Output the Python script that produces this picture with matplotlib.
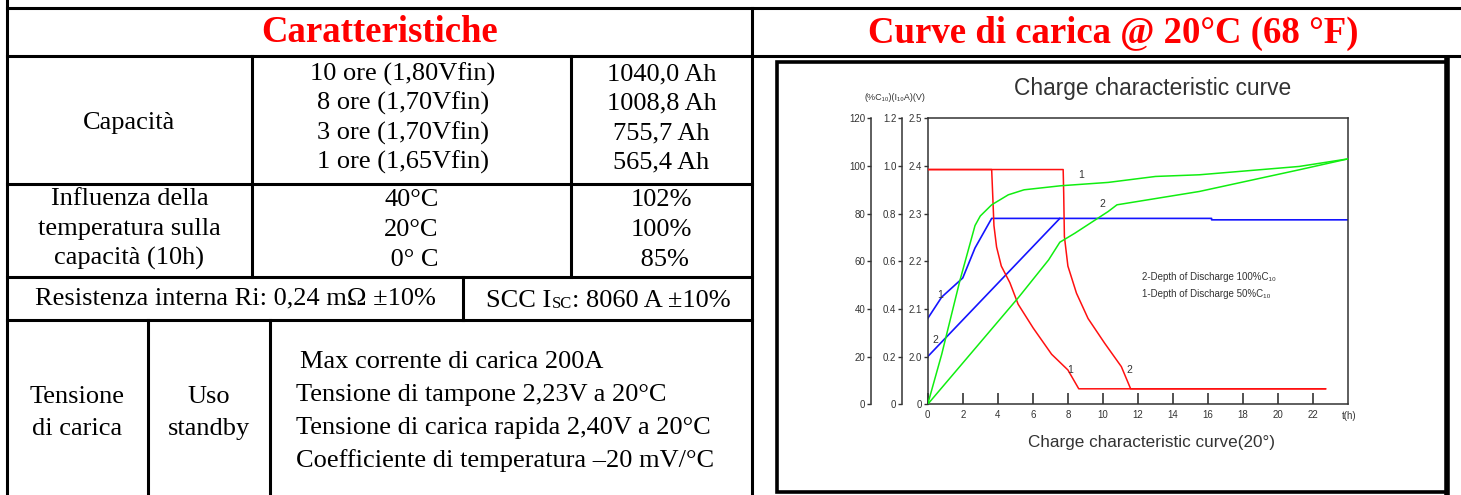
import numpy as np
import matplotlib.pyplot as plt
from matplotlib.patches import Rectangle

W, H = 1461, 495
SERIF = 'Liberation Serif'
SANS = ['Liberation Sans', 'DejaVu Sans']

# ---- table content ----
title_left = 'Caratteristiche'
title_right = 'Curve di carica @ 20°C (68 °F)'
capacity_rates = ['10 ore (1,80Vfin)', '8 ore (1,70Vfin)', '3 ore (1,70Vfin)', '1 ore (1,65Vfin)']
capacity_values = ['1040,0 Ah', '1008,8 Ah', '755,7 Ah', '565,4 Ah']
temp_label = ['Influenza della', 'temperatura sulla', 'capacità (10h)']
temperatures = ['40°C', '20°C', ' 0° C']
temp_capacity = ['102%', '100%', ' 85%']
resistance = 'Resistenza interna Ri: 0,24 mΩ ±10%'
short_circuit = ['SCC I', 'SC', ': 8060 A ±10%']
charge_notes = ['Max corrente di carica 200A',
                'Tensione di tampone 2,23V a 20°C',
                'Tensione di carica rapida 2,40V a 20°C',
                'Coefficiente di temperatura –20 mV/°C']

# ---- chart data (t in hours) ----
# charge current (x I10 A)
red1_t = [0, 3.65, 3.72, 3.78, 3.93, 4.2, 4.69, 5.16, 6.02, 7.07, 8.0, 8.62, 22.7]
red1_i = [0.985, 0.985, 0.86, 0.75, 0.66, 0.58, 0.51, 0.42, 0.32, 0.21, 0.144, 0.065, 0.065]
red2_t = [0, 7.73, 7.76, 7.8, 8.0, 8.49, 9.15, 10.1, 11.05, 11.58, 22.7]
red2_i = [0.985, 0.985, 0.887, 0.704, 0.58, 0.466, 0.36, 0.256, 0.158, 0.065, 0.065]
# cell voltage (V)
blue1_t = [0, 0.8, 2.0, 2.7, 3.65, 16.2, 16.2, 24]
blue1_v = [2.08, 2.125, 2.165, 2.228, 2.29, 2.29, 2.287, 2.287]
blue2_t = [0, 7.54]
blue2_v = [2.0, 2.29]
# charged capacity (% C10)
green1_t = [0, 0.8, 1.84, 2.7, 3.0, 3.65, 4.6, 5.5, 7.6, 10.3, 13.0, 15.5, 21.2, 24]
green1_c = [0, 21, 52, 75, 79, 83.7, 87.9, 90, 91.7, 93.1, 95.6, 96.3, 99.8, 103]
green2_t = [0, 5.2, 6.9, 7.54, 8.4, 10.3, 10.8, 15.5, 21.2, 24]
green2_c = [0, 45, 60.6, 68, 71.8, 80.9, 83.7, 89.3, 98.4, 103]

time_ticks = list(range(0, 23, 2))
volt_ticks = [1.9, 2.0, 2.1, 2.2, 2.3, 2.4, 2.5]
volt_labels = ['0', '2.0', '2.1', '2.2', '2.3', '2.4', '2.5']
curr_ticks = [0, 0.2, 0.4, 0.6, 0.8, 1.0, 1.2]
curr_labels = ['0', '0.2', '0.4', '0.6', '0.8', '1.0', '1.2']
cap_ticks = [0, 20, 40, 60, 80, 100, 120]

fig = plt.figure(figsize=(W / 100, H / 100), dpi=100)
bg = fig.add_axes([0, 0, 1, 1])
bg.set_xlim(0, W)
bg.set_ylim(H, 0)
bg.axis('off')

LW = 2.2
def hline(y, x0, x1):
    bg.plot([x0, x1], [y, y], color='k', lw=LW, solid_capstyle='projecting')

def vline(x, y0, y1):
    bg.plot([x, x], [y0, y1], color='k', lw=LW, solid_capstyle='projecting')

# grid of the table
hline(8, 7, W)
hline(56, 7, W)
hline(184, 7, 752)
hline(277, 7, 752)
hline(320, 7, 752)
vline(7, 0, H)
vline(752, 8, H)
vline(252, 56, 277)
vline(571, 56, 277)
vline(463, 277, 320)
vline(148, 320, H)
vline(270, 320, H)

tkw = dict(family=SERIF, fontsize=19, color='k', ha='center', va='center')
bg.text(379.5, 33, title_left, family=SERIF, fontsize=26.5, fontweight='bold',
        color='#ff0000', ha='center', va='center')
bg.text(1113, 33, title_right, family=SERIF, fontsize=26.5, fontweight='bold',
        color='#ff0000', ha='center', va='center')

bg.text(129.5, 123, 'Capacità', **tkw)
for i, (r, v) in enumerate(zip(capacity_rates, capacity_values)):
    y = 74 + i * 29.5
    bg.text(403, y, r, **tkw)
    bg.text(661.5, y, v, **tkw)

for i, s in enumerate(temp_label):
    bg.text(129.5, 199 + i * 29.5, s, **tkw)
for i, (t, c) in enumerate(zip(temperatures, temp_capacity)):
    y = 200 + i * 30
    bg.text(411.5, y, t, **tkw)
    bg.text(661.5, y, c, **tkw)

bg.text(235, 298, resistance, **tkw)
# "SCC Isc" with the small "SC" sitting on the baseline
prev = bg.text(486, 307, short_circuit[0], family=SERIF, fontsize=19, ha='left', va='baseline')
prev = bg.annotate(short_circuit[1], xy=(1, 0), xycoords=prev, xytext=(0.5, 0),
                   textcoords='offset points', family=SERIF, fontsize=12,
                   ha='left', va='bottom')
bg.annotate(short_circuit[2], xy=(1, 0), xycoords=prev, family=SERIF, fontsize=19,
            ha='left', va='bottom')

bg.text(77.5, 397, 'Tensione', **tkw)
bg.text(77.5, 429, 'di carica', **tkw)
bg.text(209, 397, 'Uso', **tkw)
bg.text(209, 429, 'standby', **tkw)
for i, s in enumerate(charge_notes):
    x = 300 if i == 0 else 296
    bg.text(x, 362 + i * 33, s, family=SERIF, fontsize=19, ha='left', va='center')

# frame around the chart picture
bg.add_patch(Rectangle((776.5, 61.5), 670, 430, fill=False, ec='k', lw=2.6))
bg.plot([1447, 1447], [60, 493], color='k', lw=4)

# ---- chart ----
px0, px1, py0, py1 = 927.7, 1348.3, 118.3, 404.3
ax = fig.add_axes([px0 / W, (H - py1) / H, (px1 - px0) / W, (py1 - py0) / H])
ax.patch.set_visible(False)
ax.set_xlim(0, 24)
ax.set_ylim(1.9, 2.5)
ax.set_xticks(time_ticks)
ax.set_xticklabels([str(t) for t in time_ticks], family=SANS)
ax.set_yticks(volt_ticks)
ax.set_yticklabels(volt_labels, family=SANS)
ax.tick_params(axis='x', direction='in', length=8, width=1.2, labelsize=7, pad=4,
               colors='#333')
ax.tick_params(axis='y', direction='out', length=3, width=1, labelsize=7, pad=1,
               colors='#333')
for s in ax.spines.values():
    s.set_color('#333')
    s.set_linewidth(1.1)

ax_i = ax.twinx()
ax_c = ax.twinx()
for a, off, lim, ticks, labels in [(ax_i, 18.5, (0, 1.2), curr_ticks, curr_labels),
                                   (ax_c, 40.8, (0, 120), cap_ticks, [str(c) for c in cap_ticks])]:
    a.set_ylim(*lim)
    a.yaxis.tick_left()
    a.spines['left'].set_position(('outward', off))
    a.spines['left'].set_visible(True)
    a.spines['left'].set_color('#333')
    a.spines['left'].set_linewidth(1.1)
    for side in ['right', 'top', 'bottom']:
        a.spines[side].set_visible(False)
    a.set_yticks(ticks)
    a.set_yticklabels(labels, family=SANS)
    a.tick_params(axis='y', direction='out', length=3, width=1, labelsize=7, pad=1,
                  colors='#333')

ax_i.plot(red1_t, red1_i, color='#ff1010', lw=1.1)
ax_i.plot(red2_t, red2_i, color='#ff1010', lw=1.1)
ax.plot(blue1_t, blue1_v, color='#1414ff', lw=1.2)
ax.plot(blue2_t, blue2_v, color='#1414ff', lw=1.2)
ax_c.plot(green1_t, green1_c, color='#10ee10', lw=1.1)
ax_c.plot(green2_t, green2_c, color='#10ee10', lw=1.1)

lkw = dict(family=SANS, fontsize=7.5, color='#333', ha='center', va='center')
ax_c.text(8.77, 96.3, '1', **lkw)
ax_c.text(9.97, 84.2, '2', **lkw)
ax.text(0.7, 2.13, '1', **lkw)
ax.text(0.46, 2.035, '2', **lkw)
ax_i.text(8.1, 0.144, '1', **lkw)
ax_i.text(11.5, 0.144, '2', **lkw)
ax_c.text(12.25, 53.5, '2-Depth of Discharge 100%C₁₀', family=SANS, fontsize=7,
          color='#333', ha='left', va='center')
ax_c.text(12.25, 46.3, '1-Depth of Discharge 50%C₁₀', family=SANS, fontsize=7,
          color='#333', ha='left', va='center')

bg.text(1153, 89, 'Charge characteristic curve', family=SANS, fontsize=16.4,
        color='#333', ha='center', va='center')
bg.text(1152, 442, 'Charge characteristic curve(20°)', family=SANS, fontsize=12.3,
        color='#333', ha='center', va='center')
bg.text(895, 98, '(%C₁₀)(I₁₀A)(V)', family=SANS, fontsize=6.5, color='#333',
        ha='center', va='center')
bg.text(1349, 416, 't(h)', family=SANS, fontsize=7, color='#333', ha='center', va='center')

fig.savefig('out.png', dpi=100)
